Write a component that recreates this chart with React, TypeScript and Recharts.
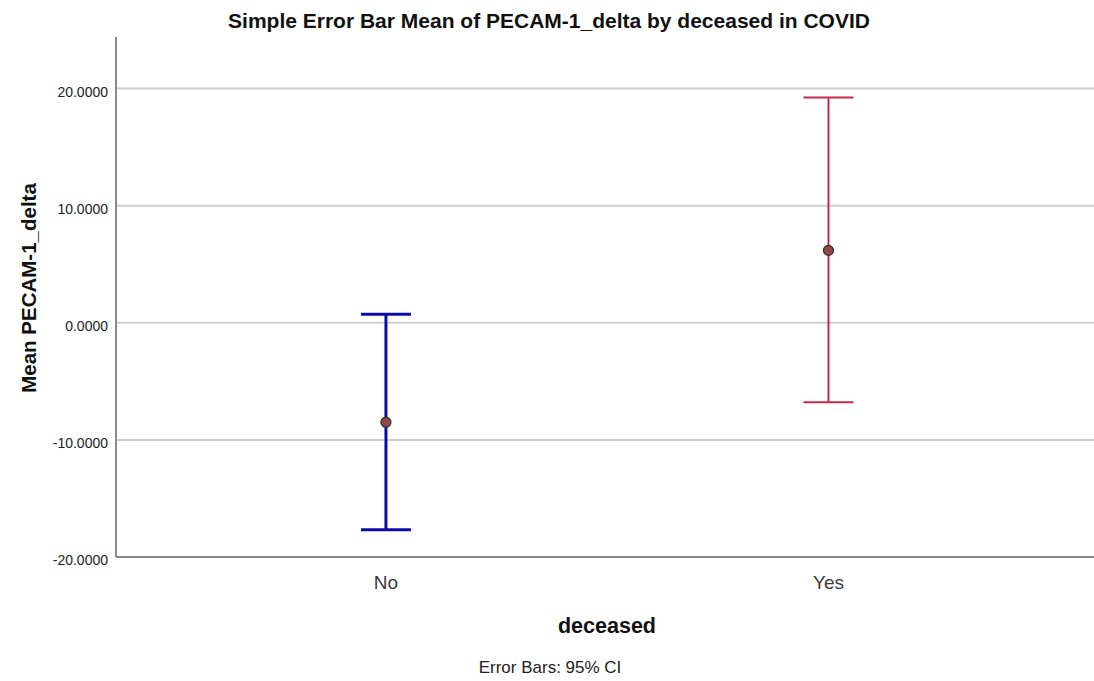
import React from 'react';
import { ComposedChart, Scatter, XAxis, YAxis, CartesianGrid, ErrorBar } from 'recharts';

const categories = ['No', 'Yes'];
const means = [-8.49, 6.18];
const ciLow = [-17.67, -6.78];
const ciHigh = [0.72, 19.23];
const yTicks = [-20, -10, 0, 10, 20];
const barColors = ['#0c0ca8', '#c8284f'];
const barWidths = [3, 2];

const rows = categories.map((c, i) => ({
  x: i + 1,
  name: c,
  mean: means[i],
  err: [means[i] - ciLow[i], ciHigh[i] - means[i]],
}));

const FONT = '"Liberation Sans", Arial, sans-serif';
const W = 1094;
const H = 681;

const YTick = (props: any) => {
  const { x, y, payload } = props;
  return (
    <text x={x} y={y + 8} textAnchor="end" fontFamily={FONT} fontSize={14} fill="#222">
      {Number(payload.value).toFixed(4)}
    </text>
  );
};

const XTick = (props: any) => {
  const { x, y, payload } = props;
  const idx = Math.round(payload.value) - 1;
  return (
    <text x={x} y={y + 30} textAnchor="middle" fontFamily={FONT} fontSize={19} fill="#3a3a3a">
      {categories[idx] ?? ''}
    </text>
  );
};

const Dot = (props: any) => {
  const { cx, cy } = props;
  return <circle cx={cx} cy={cy} r={5} fill="#8e4848" stroke="#3a2a2a" strokeWidth={1.2} />;
};

export default function App() {
  return (
    <div style={{ position: 'absolute', left: 0, top: 0, width: W, height: H, background: '#fff' }}>
      <ComposedChart width={W} height={H} margin={{ top: 37, right: 0, bottom: 0, left: 0 }}>
        <CartesianGrid
          horizontal
          vertical={false}
          horizontalValues={yTicks}
          stroke="#cfcfcf"
          strokeWidth={2}
        />
        <XAxis
          type="number"
          dataKey="x"
          domain={[0.39, 2.6]}
          ticks={[1, 2]}
          allowDataOverflow
          height={124}
          tickLine={false}
          tickSize={0}
          tick={<XTick />}
          axisLine={{ stroke: '#8a8a8a', strokeWidth: 2 }}
        />
        <YAxis
          type="number"
          dataKey="mean"
          domain={[-20, 24.4]}
          ticks={yTicks}
          allowDataOverflow
          width={116}
          tickLine={false}
          tickSize={0}
          tickMargin={8}
          tick={<YTick />}
          axisLine={{ stroke: '#8a8a8a', strokeWidth: 2 }}
        />
        {rows.map((r, i) => (
          <Scatter key={r.name} data={[r]} dataKey="mean" shape={<Dot />} isAnimationActive={false}>
            <ErrorBar
              dataKey="err"
              direction="y"
              width={25}
              stroke={barColors[i]}
              strokeWidth={barWidths[i]}
              isAnimationActive={false}
            />
          </Scatter>
        ))}
      </ComposedChart>
      <svg
        width={W}
        height={H}
        style={{ position: 'absolute', left: 0, top: 0, pointerEvents: 'none' }}
      >
        <text x={549} y={28} textAnchor="middle" fontFamily={FONT} fontSize={21} fontWeight="bold" fill="#111">
          Simple Error Bar Mean of PECAM-1_delta by deceased in COVID
        </text>
        <text
          x={36}
          y={288}
          transform="rotate(-90 36 288)"
          textAnchor="middle"
          fontFamily={FONT}
          fontSize={20.5}
          fontWeight="bold"
          fill="#111"
        >
          Mean PECAM-1_delta
        </text>
        <text x={607} y={633} textAnchor="middle" fontFamily={FONT} fontSize={21.5} fontWeight="bold" fill="#111">
          deceased
        </text>
        <text x={550} y={673} textAnchor="middle" fontFamily={FONT} fontSize={17} fill="#222">
          Error Bars: 95% CI
        </text>
      </svg>
    </div>
  );
}
